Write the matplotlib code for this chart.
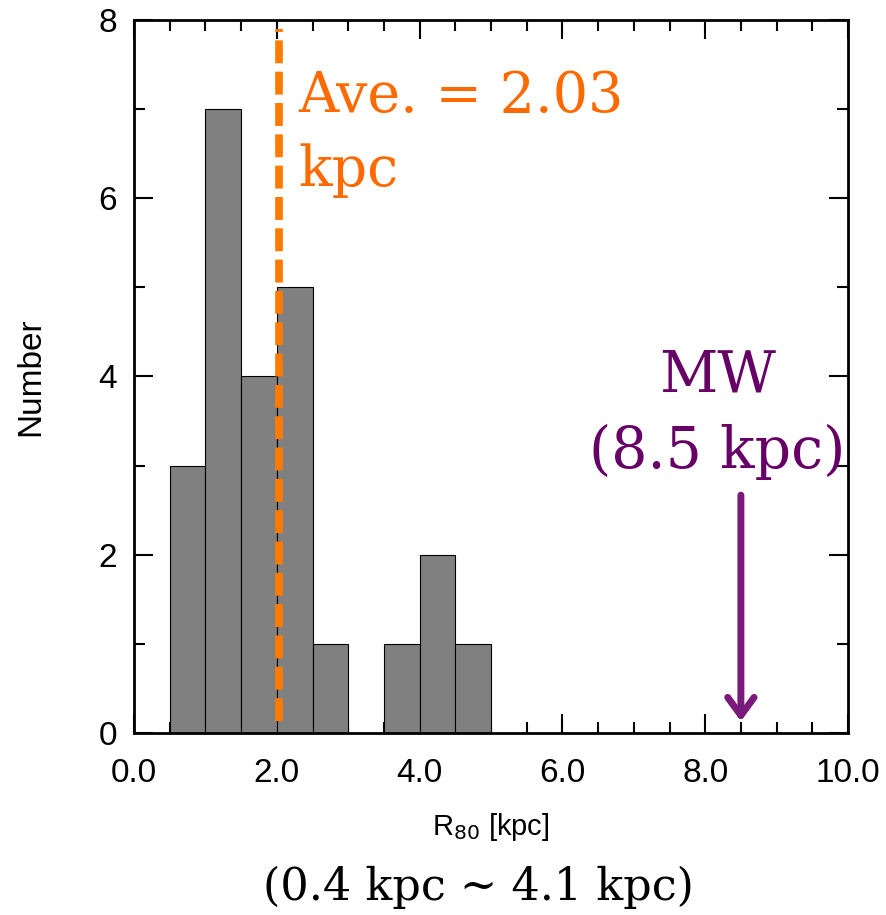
import matplotlib.pyplot as plt
from matplotlib.ticker import MultipleLocator, FormatStrFormatter

# Histogram of R80 (bin left edges in kpc, counts per bin)
bin_left = [0.5, 1.0, 1.5, 2.0, 2.5, 3.0, 3.5, 4.0, 4.5]
counts = [3, 7, 4, 5, 1, 0, 1, 2, 1]
bin_width = 0.5

r80_mean = 2.03
r80_mw = 8.5

plt.rcParams["font.family"] = ["Liberation Sans", "DejaVu Sans"]

fig = plt.figure(figsize=(8.86, 9.15), dpi=100)
ax = fig.add_axes([134 / 886, 1 - 733 / 915, 714 / 886, 713 / 915])

# Bars
ax.bar(bin_left, counts, width=bin_width, align="edge", color="#808080",
       edgecolor="black", linewidth=0.8, zorder=2)

# Average line
ax.plot([r80_mean, r80_mean], [0.13, 7.9], color="#FF7A00", lw=5.5,
        ls=(0, (3.0, 1.1)), zorder=3)
ax.text(2.3, 7.45, "Ave. = 2.03\nkpc", color="#FF6A00", fontsize=40,
        family="DejaVu Serif", va="top", ha="left", linespacing=1.45)

# Milky Way marker
ax.text(8.17, 4.32, "MW\n(8.5 kpc)", color="#660066", fontsize=41,
        family="DejaVu Serif", va="top", ha="center", linespacing=1.45)
ax.annotate("", xy=(r80_mw, 0.1), xytext=(r80_mw, 2.7),
            arrowprops=dict(arrowstyle="->,head_length=1.3,head_width=0.95",
                            color="#7A1A7A", lw=5))

ax.set_xlim(0, 10)
ax.set_ylim(0, 8)
ax.xaxis.set_major_locator(MultipleLocator(2))
ax.xaxis.set_minor_locator(MultipleLocator(0.5))
ax.yaxis.set_major_locator(MultipleLocator(2))
ax.yaxis.set_minor_locator(MultipleLocator(1))
ax.xaxis.set_major_formatter(FormatStrFormatter("%.1f"))
ax.tick_params(which="both", direction="in", top=True, right=True,
               width=1.5, labelsize=24)
ax.tick_params(which="major", length=14, pad=12)
ax.tick_params(axis="x", which="major", pad=18)
ax.tick_params(which="minor", length=8)
for s in ax.spines.values():
    s.set_linewidth(2)

ax.set_xlabel("R$_{80}$ [kpc]", fontsize=21, labelpad=16)
ax.set_ylabel("Number", fontsize=24, labelpad=38)

fig.text(478 / 886, 1 - 887 / 915, "(0.4 kpc ~ 4.1 kpc)", fontsize=32,
         family="DejaVu Serif", ha="center", va="center")

fig.savefig("out.png", dpi=100)
